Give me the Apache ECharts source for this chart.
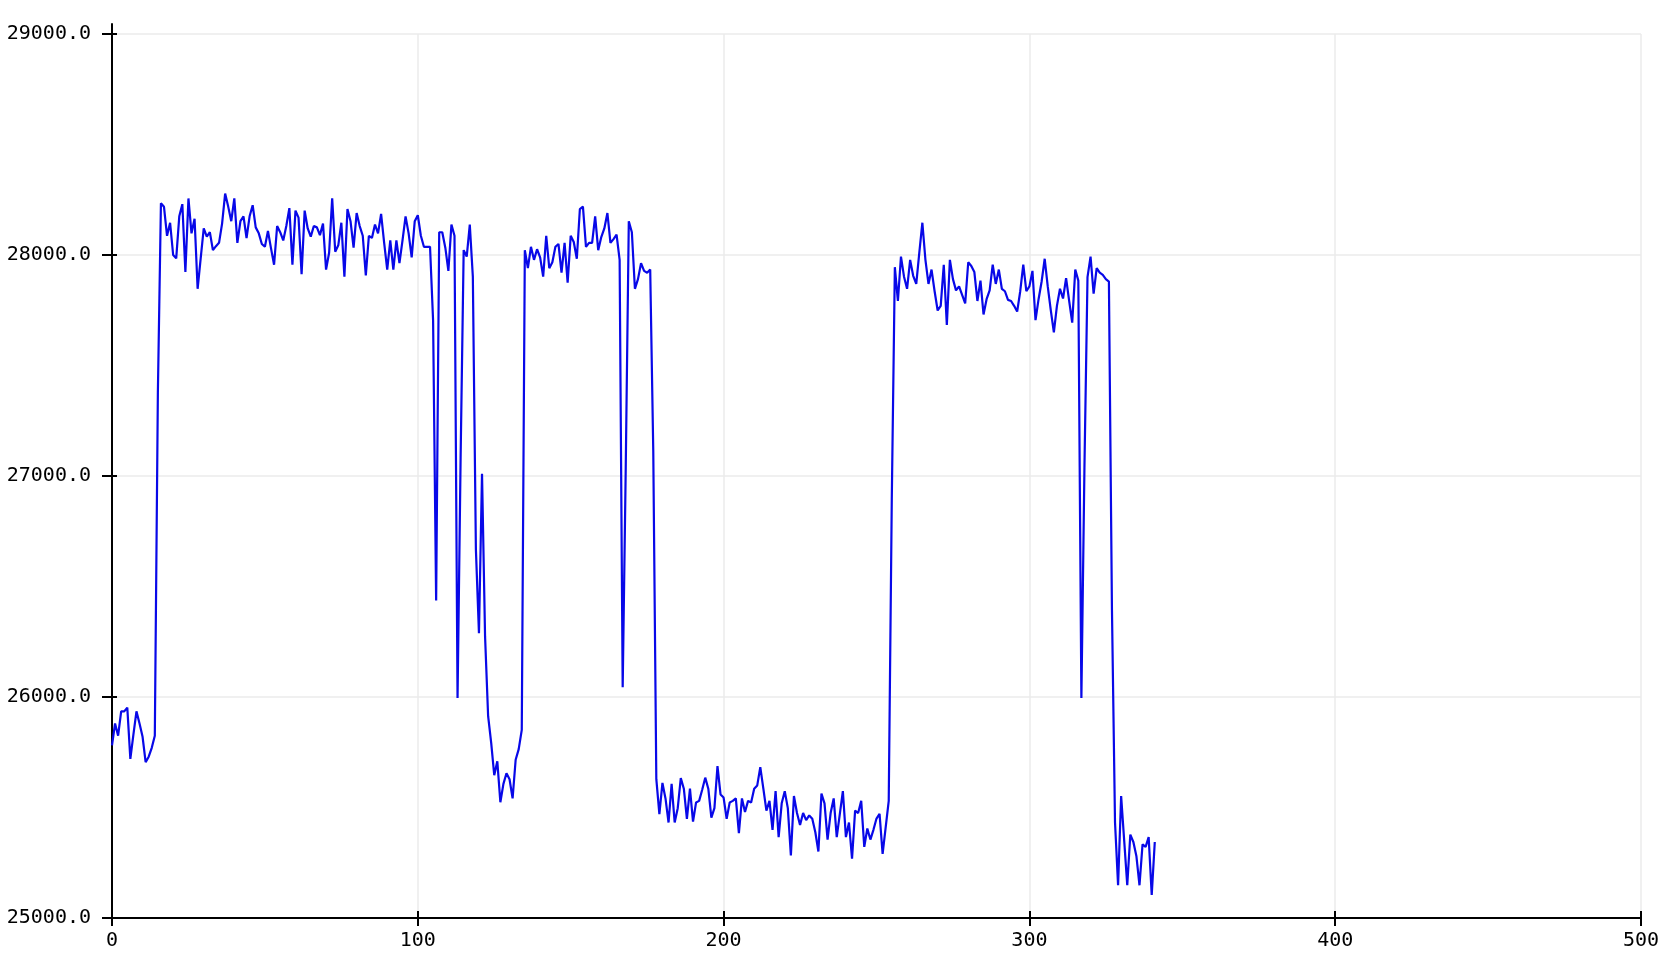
<!DOCTYPE html>
<html>
<head>
<meta charset="utf-8">
<script src="https://cdn.jsdelivr.net/npm/echarts@6/dist/echarts.min.js"></script>
<style>
html,body{margin:0;padding:0;background:#fff;}
#chart{width:1668px;height:974px;}
</style>
</head>
<body>
<div id="chart"></div>
<script>
const values = [
25781,25880,25825,25935,25935,25952,25720,25830,25935,25880,
25820,25705,25730,25770,25825,27377,28234,28218,28087,28146,
28000,27985,28175,28230,27923,28256,28098,28164,27847,27985,
28120,28083,28103,28022,28040,28055,28142,28278,28219,28153,
28256,28055,28153,28175,28077,28175,28225,28125,28098,28050,
28037,28109,28030,27956,28131,28103,28066,28131,28212,27956,
28201,28169,27913,28201,28120,28083,28131,28125,28090,28142,
27934,28010,28257,28015,28044,28146,27902,28208,28153,28033,
28190,28131,28087,27908,28087,28077,28138,28098,28186,28055,
27934,28066,27934,28066,27963,28066,28175,28098,27989,28153,
28180,28087,28037,28037,28037,27705,26437,28103,28103,28033,
27928,28138,28087,25996,27082,28022,27993,28138,27902,26667,
26289,27010,26273,25913,25792,25646,25709,25524,25607,25655,
25628,25541,25716,25764,25851,28022,27941,28037,27978,28026,
27989,27902,28087,27940,27967,28037,28050,27920,28055,27875,
28087,28059,27983,28208,28219,28037,28055,28055,28175,28022,
28081,28120,28190,28055,28072,28092,27978,26044,27038,28153,
28103,27847,27891,27963,27928,27920,27934,27115,25628,25470,
25611,25541,25432,25607,25432,25497,25633,25585,25449,25585,
25436,25523,25530,25580,25635,25585,25454,25497,25687,25559,
25545,25449,25523,25530,25541,25384,25541,25480,25530,25523,
25585,25600,25683,25585,25486,25530,25399,25574,25366,25519,
25574,25497,25283,25552,25475,25421,25475,25443,25464,25449,
25388,25301,25563,25519,25355,25475,25541,25366,25470,25574,
25366,25432,25268,25486,25475,25530,25322,25405,25355,25399,
25450,25471,25290,25410,25530,26896,27945,27792,27993,27902,
27847,27978,27906,27869,28011,28146,27978,27869,27934,27836,
27749,27770,27956,27683,27978,27891,27840,27858,27820,27781,
27967,27950,27923,27792,27884,27731,27800,27840,27956,27869,
27934,27847,27836,27797,27792,27770,27744,27836,27956,27836,
27858,27928,27705,27800,27880,27983,27858,27749,27650,27770,
27847,27803,27895,27792,27694,27934,27884,25996,27040,27900,
27993,27825,27941,27920,27910,27891,27880,26393,25432,25148,
25552,25350,25148,25377,25344,25279,25148,25333,25322,25366,
25104,25344
];
const xTicks = [0, 100, 200, 300, 400, 500];
const yTicks = [25000, 26000, 27000, 28000, 29000];

const chart = echarts.init(document.getElementById('chart'), null, {renderer: 'canvas'});
const FONT = 'DejaVu Sans Mono';
const GRID = {left: 112, right: 27, top: 34, bottom: 56};
const xMin = xTicks[0], xMax = xTicks[xTicks.length - 1], xInt = xTicks[1] - xTicks[0];
const yMin = yTicks[0], yMax = yTicks[yTicks.length - 1], yInt = yTicks[1] - yTicks[0];

const seriesData = values.map((v, i) => [i, v]);

chart.setOption({
  animation: false,
  backgroundColor: '#fff',
  grid: [
    Object.assign({containLabel: false}, GRID),
    {left: GRID.left, right: GRID.right, top: GRID.top - 10, bottom: GRID.bottom, containLabel: false}
  ],
  xAxis: [
    {
      type: 'value', gridIndex: 0, position: 'bottom', min: xMin, max: xMax, interval: xInt,
      axisLine: {show: true, onZero: false, lineStyle: {color: '#000', width: 2}},
      axisTick: {show: true, inside: false, length: 8, lineStyle: {color: '#000', width: 2}},
      axisLabel: {show: true, margin: 13, color: '#000', fontFamily: FONT, fontSize: 20,
        formatter: v => String(v)},
      splitLine: {show: true, lineStyle: {color: '#ebebeb', width: 1.5}}
    },
    {
      type: 'value', gridIndex: 0, position: 'bottom', min: xMin, max: xMax, interval: xInt,
      axisLine: {show: false, onZero: false},
      axisTick: {show: true, inside: true, length: 7, lineStyle: {color: '#000', width: 2}},
      axisLabel: {show: false}, splitLine: {show: false}
    },
    {
      type: 'value', gridIndex: 1, show: false, min: 0, max: 1
    }
  ],
  yAxis: [
    {
      type: 'value', gridIndex: 0, position: 'left', min: yMin, max: yMax, interval: yInt,
      axisLine: {show: true, onZero: false, lineStyle: {color: '#000', width: 2}},
      axisTick: {show: true, inside: false, length: 10, lineStyle: {color: '#000', width: 2}},
      axisLabel: {show: true, margin: 21, color: '#000', fontFamily: FONT, fontSize: 20,
        formatter: v => v.toFixed(1)},
      splitLine: {show: true, lineStyle: {color: '#ebebeb', width: 1.5}}
    },
    {
      type: 'value', gridIndex: 0, position: 'left', min: yMin, max: yMax, interval: yInt,
      axisLine: {show: false, onZero: false},
      axisTick: {show: true, inside: true, length: 5, lineStyle: {color: '#000', width: 2}},
      axisLabel: {show: false}, splitLine: {show: false}
    },
    {
      type: 'value', gridIndex: 1, position: 'left', min: 0, max: 1,
      axisLine: {show: true, onZero: false, lineStyle: {color: '#000', width: 2}},
      axisTick: {show: false}, axisLabel: {show: false}, splitLine: {show: false}
    }
  ],
  series: [{
    type: 'line',
    xAxisIndex: 0, yAxisIndex: 0,
    data: seriesData,
    showSymbol: false,
    symbol: 'none',
    lineStyle: {color: '#0808e8', width: 2.2},
    itemStyle: {color: '#0808e8'},
    z: 5
  }]
});
</script>
</body>
</html>
